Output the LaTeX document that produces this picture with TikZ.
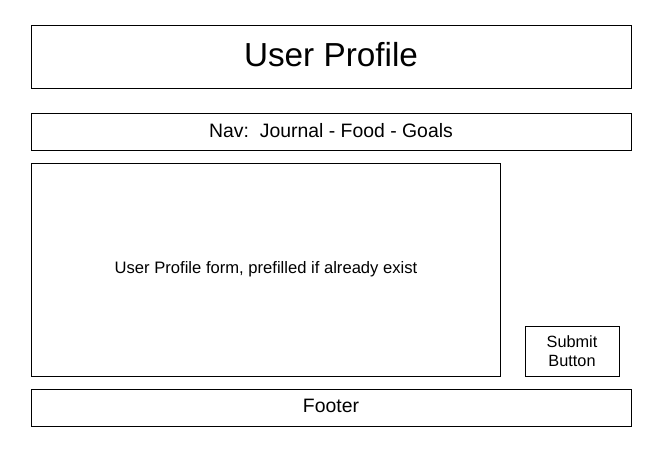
\documentclass[tikz,border=0pt]{standalone}
\usepackage{fontspec}
\setmainfont{Liberation Sans}
\begin{document}
\begin{tikzpicture}[x=1pt,y=-1pt,
  panel/.style={draw=black,line width=1pt,fill=white,inner sep=0pt},
  big/.style={font=\fontsize{33.3}{40}\selectfont},
  mid/.style={font=\fontsize{19.4}{23}\selectfont},
  small/.style={font=\fontsize{16.6}{20}\selectfont,align=center}]
  \useasboundingbox[fill=white] (0,0) rectangle (668,454);
  % page regions
  \draw[panel] (31,26) rectangle (631,89);
  \node[big] (title) at (331,55) {User Profile};
  \draw[panel] (31,114) rectangle (631,151);
  \node[mid] (nav) at (331,131) {Nav:\ \ Journal - Food - Goals};
  \draw[panel] (31,164) rectangle (500,376);
  \node[small] (form) at (266,269.5) {User Profile form, prefilled if already exist};
  \draw[panel] (525,326) rectangle (619,376);
  \node[small,text depth=0pt,font=\fontsize{16.3}{20}\selectfont] (submit) at (572,351) {Submit\\[-1pt]Button};
  \draw[panel] (31,389) rectangle (631,426);
  \node[mid] (footer) at (331,406) {Footer};
\end{tikzpicture}
\end{document}
